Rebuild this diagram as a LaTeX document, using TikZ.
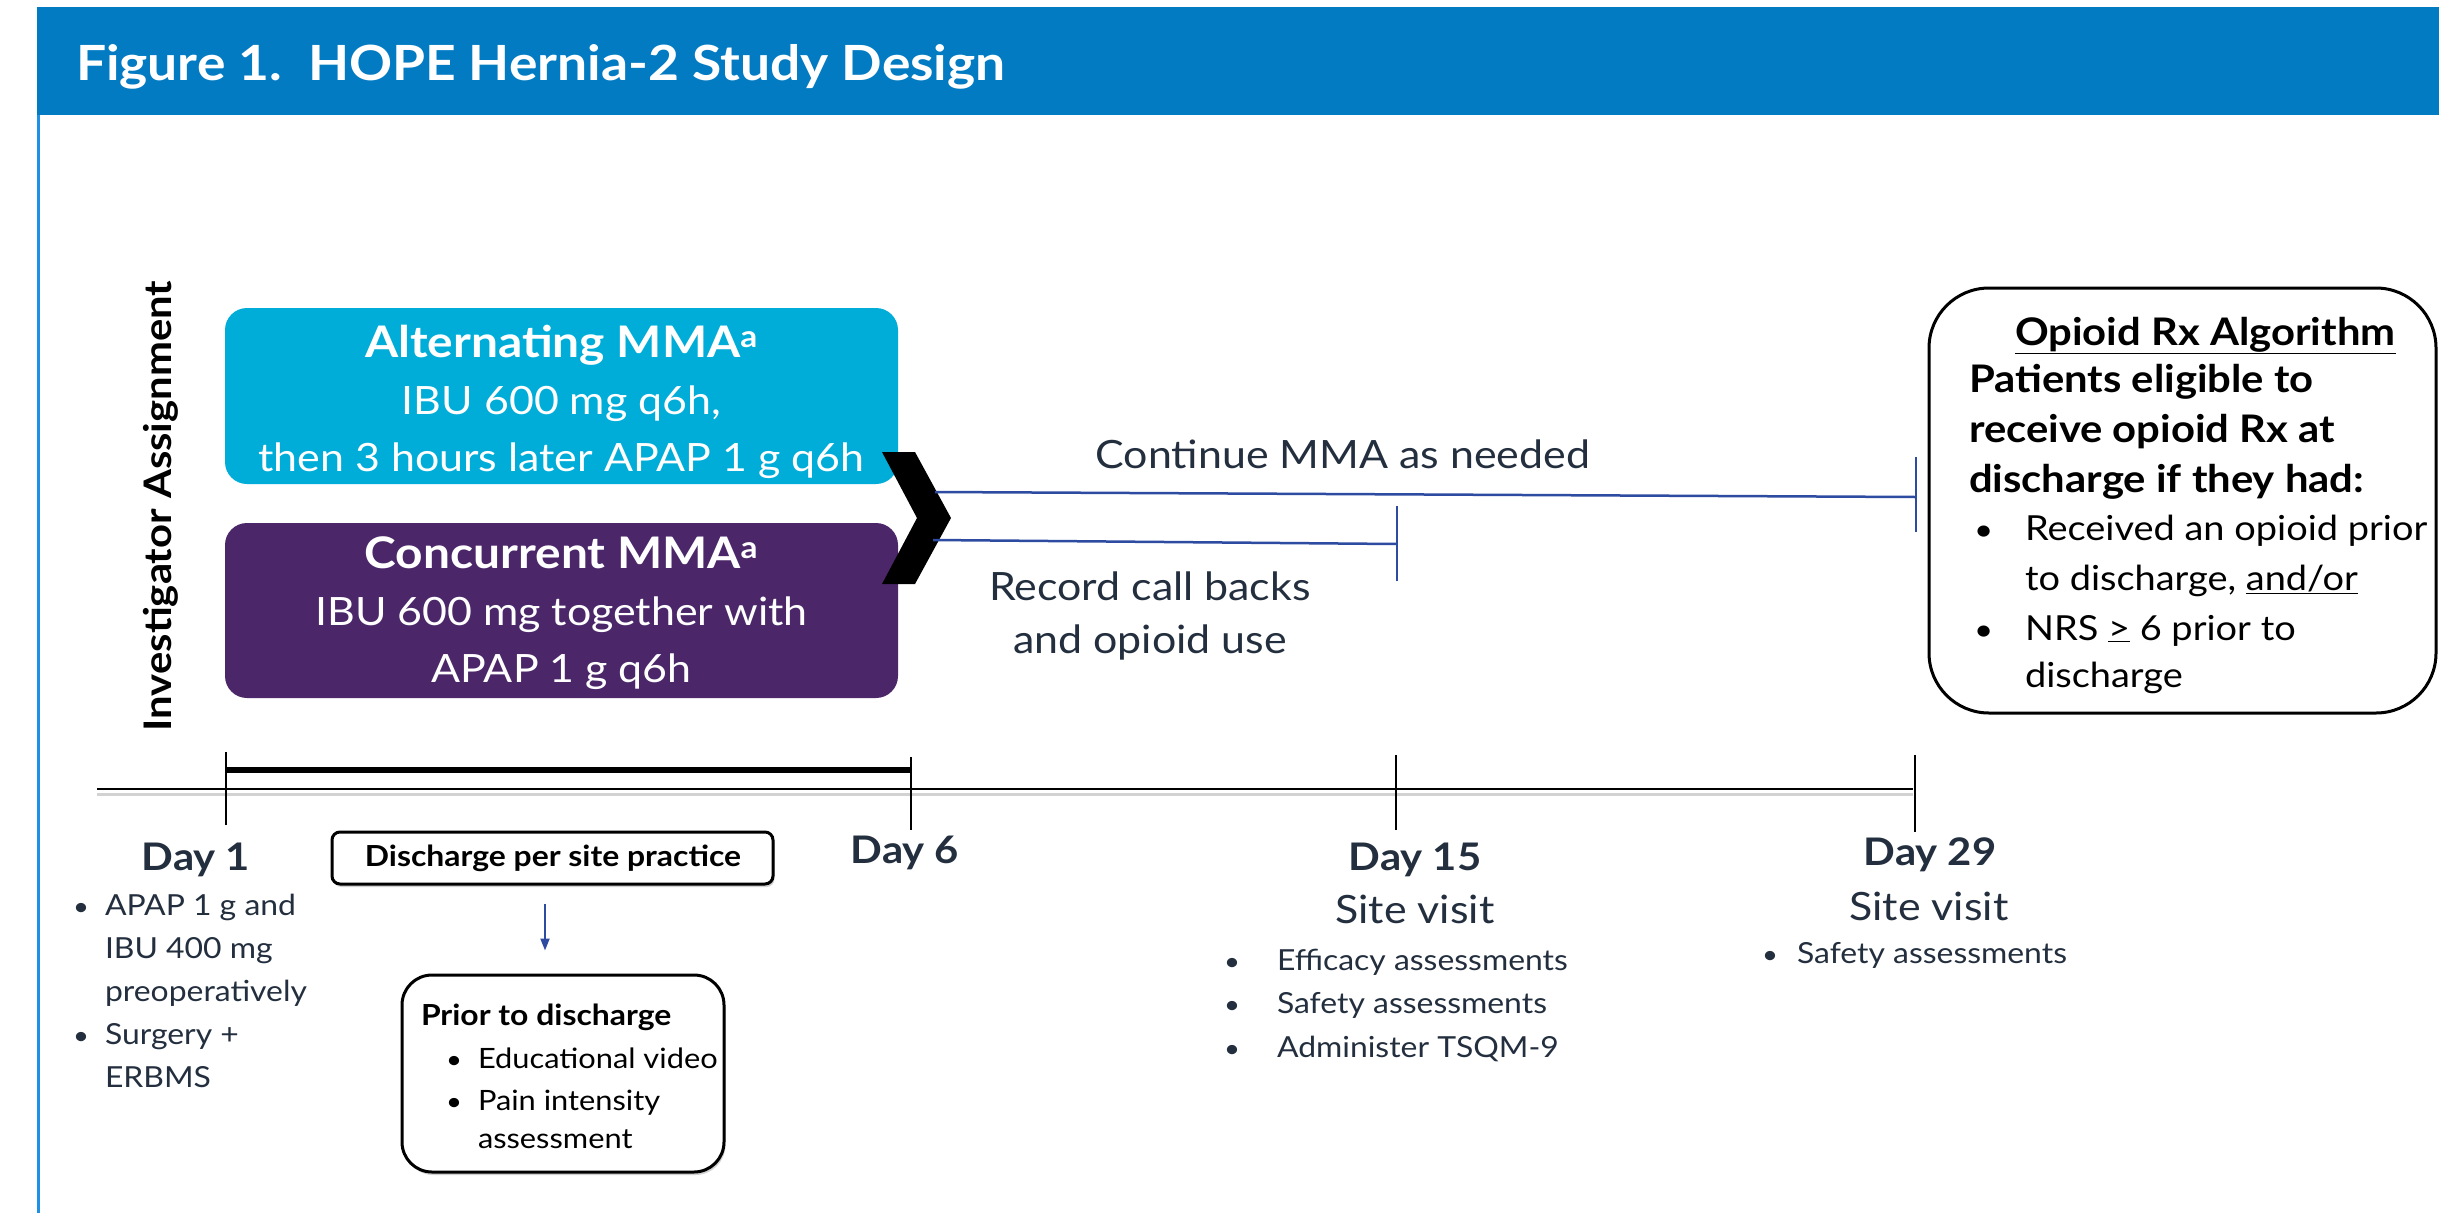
\documentclass[tikz,border=0pt]{standalone}
\usepackage{fontspec}
\setmainfont{Lato}[FakeStretch=1.1]
\usetikzlibrary{arrows.meta,shadows}
\definecolor{hdr}{RGB}{3,123,194}
\definecolor{side}{RGB}{30,144,230}
\definecolor{cyanbox}{RGB}{0,173,216}
\definecolor{purplebox}{RGB}{75,39,106}
\definecolor{slate}{RGB}{35,47,62}
\definecolor{navyline}{RGB}{45,75,160}
\newcommand{\fsz}[2]{\fontsize{#1pt}{#2pt}\selectfont}
\newcommand{\ctab}[1]{\begin{tabular}[t]{@{}c@{}}#1\end{tabular}}
\newcommand{\ltab}[1]{\begin{tabular}[t]{@{}l@{}}#1\end{tabular}}
\newcommand{\boxhead}[1]{{\fsz{43.5}{57}\bfseries #1}}
\tikzset{
  txt/.style={inner sep=0pt, outer sep=0pt},
  mmabox/.style={rounded corners=22pt, inner sep=0pt, minimum width=673pt},
  linebox/.style={draw=black, line width=3pt, fill=white, inner sep=0pt,
     drop shadow={shadow xshift=1.5pt, shadow yshift=-3pt, opacity=0.35}},
  bluebar/.style={navyline, line width=2.5pt},
  tick/.style={black, line width=2pt},
}
\begin{document}
\begin{tikzpicture}[x=1pt,y=-1pt]
\useasboundingbox (0,0) rectangle (2439,1213);
\fill[white] (0,0) rectangle (2439,1213);
% header
\fill[hdr] (37,7) rectangle (2439,115);
\draw[side, line width=3pt] (38.5,115) -- (38.5,1213);
\node[txt, anchor=base west, text=white, font=\bfseries\fsz{48.5}{52}] (title) at (76,80)
  {Figure 1.\ \ HOPE Hernia-2 Study Design};
% side label
\node[txt, rotate=90, font=\bfseries\fsz{38}{42}] (inv) at (161,506) {Investigator Assignment};
% MMA boxes
\node[mmabox, fill=cyanbox, minimum height=176pt] (alt) at (561.5,396) {};
\node[txt, anchor=base, text=white, font=\fsz{39}{57}] (alttext) at (561.5,357)
  {\ctab{\boxhead{Alternating MMA\textsuperscript{a}}\\IBU 600 mg q6h,\\then 3 hours later APAP 1 g q6h}};
\node[mmabox, fill=purplebox, minimum height=175pt] (conc) at (561.5,610.5) {};
\node[txt, anchor=base, text=white, font=\fsz{39}{57}] (conctext) at (561.5,568)
  {\ctab{\boxhead{Concurrent MMA\textsuperscript{a}}\\IBU 600 mg together with\\APAP 1 g q6h}};
% chevron
\fill[black] (882,452) -- (915,452) -- (951,518) -- (915,584) -- (882,584) -- (917,518) -- cycle;
% blue lines
\coordinate (c1) at (935,492);
\coordinate (c1e) at (1916,497);
\coordinate (c2) at (933,540);
\coordinate (c2e) at (1397,544);
\draw[bluebar] (c1) -- (c1e);
\draw[bluebar] ([yshift=-35]c1e) -- ([yshift=40]c1e);
\draw[bluebar] (c2) -- (c2e);
\draw[bluebar] ([yshift=-37]c2e) -- ([yshift=38]c2e);
\node[txt, anchor=base, text=slate, font=\fsz{39}{50}] (cont) at (1343,468) {Continue MMA as needed};
\node[txt, anchor=base, text=slate, font=\fsz{39}{53}] (rec) at (1150,600)
  {\ctab{Record call backs\\and opioid use}};
% opioid box
\node[draw=black, line width=3pt, rounded corners=60pt, minimum width=507pt, minimum height=425pt, inner sep=0pt] (opi) at (2182.5,500.5) {};
\node[txt, anchor=base west, font=\bfseries\fsz{38}{50}] (opih) at (2015,345) {\underline{Opioid Rx Algorithm}};
\node[txt, anchor=base west, font=\bfseries\fsz{38}{50}] (opib) at (1969,392)
  {\ltab{Patients eligible to\\receive opioid Rx at\\discharge if they had:}};
\node[txt, anchor=base west, font=\fsz{30}{50}] (opiu1) at (1974,540) {\textbullet};
\node[txt, anchor=base west, font=\fsz{34.5}{50}] (opit1) at (2025,540)
  {\ltab{Received an opioid prior\\to discharge, \underline{and/or}}};
\node[txt, anchor=base west, font=\fsz{30}{47}] (opiu2) at (1974,640) {\textbullet};
\node[txt, anchor=base west, font=\fsz{34.5}{47}] (opit2) at (2025,640)
  {\ltab{NRS \underline{>} 6 prior to\\discharge}};
% timeline
\draw[gray!35, line width=3pt] (97,794) -- (1913,794);
\draw[black, line width=2.5pt] (97,789) -- (1913,789);
\coordinate (t1) at (226,790);
\coordinate (t6) at (911,790);
\coordinate (t15) at (1396,790);
\coordinate (t29) at (1915,790);
\draw[black, line width=6pt] ([yshift=20]t1) -- ([yshift=20]t6);
\draw[tick] ([yshift=-35]t1) -- ([yshift=38]t1);
\draw[tick] ([yshift=-40]t6) -- ([yshift=33]t6);
\draw[tick] ([yshift=-40]t15) -- ([yshift=35]t15);
\draw[tick] ([yshift=-42]t29) -- ([yshift=35]t29);
% day labels
\node[txt, anchor=base, text=slate, font=\bfseries\fsz{38}{44}] (d1) at (196,870) {Day 1};
\node[txt, anchor=base, text=slate, font=\bfseries\fsz{38}{44}] (d6) at (905,863) {Day 6};
\node[txt, anchor=base, text=slate, font=\bfseries\fsz{38}{44}] (d15) at (1415,870) {Day 15};
\node[txt, anchor=base, text=slate, font=\bfseries\fsz{38}{44}] (d29) at (1930,865) {Day 29};
\node[txt, anchor=base, text=slate, font=\fsz{39}{44}] (sv15) at (1415,923) {Site visit};
\node[txt, anchor=base, text=slate, font=\fsz{39}{44}] (sv29) at (1929,920) {Site visit};
% day 1 bullets
\node[txt, anchor=base west, text=slate, font=\fsz{25}{43}] (b1a) at (73,915) {\textbullet};
\node[txt, anchor=base west, text=slate, font=\fsz{25}{43}] (b1b) at (73,1044) {\textbullet};
\node[txt, anchor=base west, text=slate, font=\fsz{29}{43}] (d1t) at (105,915)
  {\ltab{APAP 1 g and\\IBU 400 mg\\preoperatively\\Surgery +\\ERBMS}};
% day 15 bullets
\node[txt, anchor=base west, text=slate, font=\fsz{25}{43.5}] (b15) at (1224,970)
  {\ltab{\textbullet\\\textbullet\\\textbullet}};
\node[txt, anchor=base west, text=slate, font=\fsz{29}{43.5}] (d15t) at (1277,970)
  {\ltab{Efficacy assessments\\Safety assessments\\Administer TSQM-9}};
% day 29 bullet
\node[txt, anchor=base west, text=slate, font=\fsz{25}{43}] (b29) at (1762,963) {\textbullet};
\node[txt, anchor=base west, text=slate, font=\fsz{29}{43}] (d29t) at (1797,963) {Safety assessments};
% discharge box
\node[linebox, rounded corners=8pt, minimum width=441pt, minimum height=52pt] (disc) at (552.5,858) {};
\node[txt, anchor=base, font=\bfseries\fsz{29}{34}] (disct) at (553,866) {Discharge per site practice};
\node[linebox, rounded corners=30pt, minimum width=322pt, minimum height=197pt] (prior) at (563,1073.5) {};
\coordinate (ax) at (545,0);
\draw[navyline, line width=2pt, -{Triangle[width=9pt,length=12pt]}, shorten <=18pt, shorten >=23pt]
  (disc.south -| ax) -- (prior.north -| ax);
\node[txt, anchor=base west, font=\bfseries\fsz{29}{34}] (pt) at (421,1025) {Prior to discharge};
\node[txt, anchor=base west, font=\fsz{25}{42}] (pb1) at (446,1068) {\textbullet};
\node[txt, anchor=base west, font=\fsz{25}{42}] (pb2) at (446,1110) {\textbullet};
\node[txt, anchor=base west, font=\fsz{28}{42}] (pt1) at (478,1068) {Educational video};
\node[txt, anchor=base west, font=\fsz{28}{38}] (pt2) at (478,1110) {\ltab{Pain intensity\\assessment}};
\end{tikzpicture}
\end{document}
